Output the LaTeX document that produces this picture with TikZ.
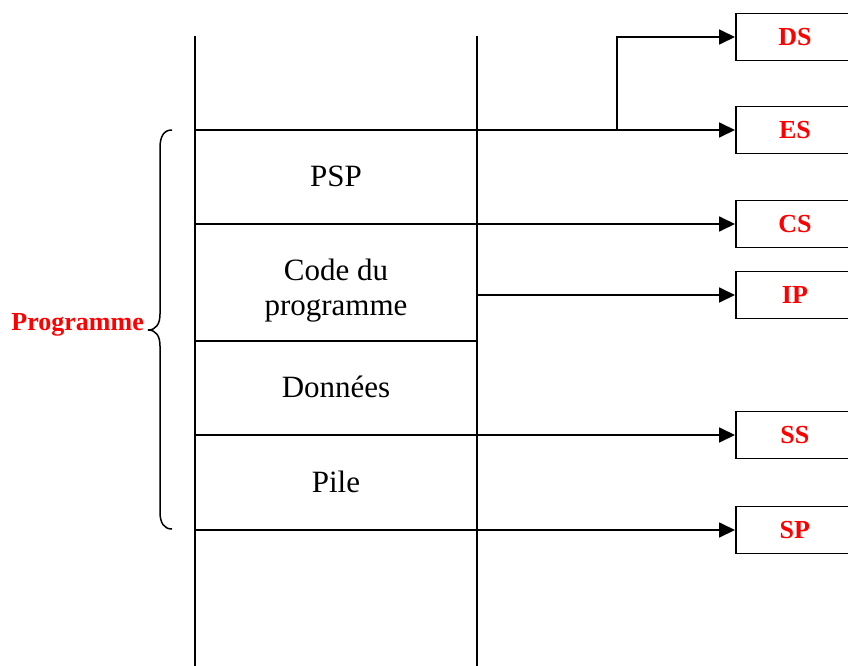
\documentclass[tikz,border=0pt]{standalone}
\usepackage{fontspec}
\setmainfont{Liberation Serif}
\usetikzlibrary{arrows.meta}
\begin{document}
\begin{tikzpicture}[x=1pt,y=-1pt,
  wire/.style={line width=1.8pt},
  arr/.style={wire,-{Triangle[length=16pt,width=15pt]}},
  reg/.style={draw,line width=1.8pt,minimum width=118pt,minimum height=47pt,
    inner sep=0pt,anchor=west,text=red,font=\fontsize{26}{30}\selectfont\bfseries},
  segtext/.style={inner sep=0pt,anchor=base,font=\fontsize{31}{35}\selectfont}]
\useasboundingbox (0,0) rectangle (848,666);
\clip (0,0) rectangle (848,666);

% memory column
\coordinate (topL) at (195,36);
\coordinate (botL) at (195,672);
\coordinate (topR) at (477,36);
\coordinate (botR) at (477,672);
\draw[wire] (topL) -- (botL);
\draw[wire] (topR) -- (botR);

% segment boundaries
\coordinate (a1) at (195,130);
\coordinate (a2) at (195,224);
\coordinate (a3) at (195,341);
\coordinate (r3) at (477,341);
\coordinate (a4) at (195,435);
\coordinate (a5) at (195,530);
\coordinate (ip) at (477,295);
\coordinate (fork) at (617,130);

% registers
\node[reg] (DS) at (735,37) {DS};
\node[reg] (ES) at (735,130) {ES};
\node[reg] (CS) at (735,224) {CS};
\node[reg] (IP) at (735,295) {IP};
\node[reg] (SS) at (735,435) {SS};
\node[reg] (SP) at (735,530) {SP};

\draw[arr] (a1) -- (ES.west);
\draw[arr] (fork) |- (DS.west);
\draw[arr] (a2) -- (CS.west);
\draw[wire] (a3) -- (r3);
\draw[arr] (ip) -- (IP.west);
\draw[arr] (a4) -- (SS.west);
\draw[arr] (a5) -- (SP.west);

% segment contents
\node[segtext] (psp) at (336,186) {PSP};
\node[segtext] (code1) at (336,280) {Code du};
\node[segtext] (code2) at (336,315) {programme};
\node[segtext] (donnees) at (336,397) {Données};
\node[segtext] (pile) at (336,492) {Pile};

% brace over the program
\draw[line width=1.5pt] (172,130) .. controls (164,130) and (160,136) .. (160,148)
  -- (160,314) .. controls (160,324) and (156,330) .. (148,330)
  .. controls (156,330) and (160,336) .. (160,346)
  -- (160,512) .. controls (160,523) and (164,529) .. (172,529);
\node[inner sep=0pt,anchor=base east,text=red,font=\fontsize{26}{30}\selectfont\bfseries]
  (prog) at (144,330) {Programme};
\end{tikzpicture}
\end{document}
